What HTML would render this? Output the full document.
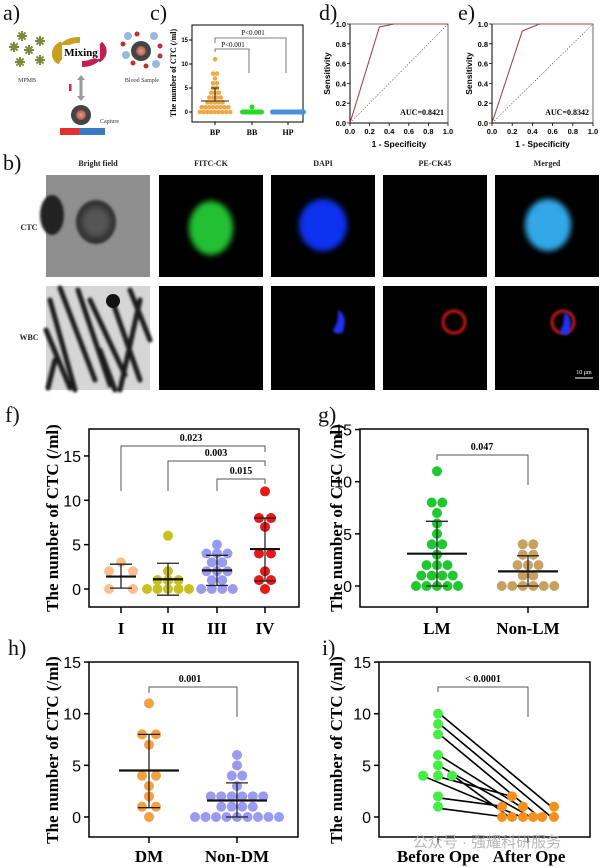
<!DOCTYPE html>
<html><head><meta charset="utf-8"><style>
html,body{margin:0;padding:0;background:#fff;width:600px;height:868px;overflow:hidden}
svg{display:block}
.sr{font-family:"Liberation Serif",serif}
.ss{font-family:"Liberation Sans",sans-serif}
</style></head><body>
<svg id="s" width="600" height="868" viewBox="0 0 600 868" xmlns="http://www.w3.org/2000/svg">
<defs>
<filter id="bl" x="-50%" y="-50%" width="200%" height="200%"><feGaussianBlur stdDeviation="3"/></filter>
<filter id="bl1"><feGaussianBlur stdDeviation="1.2"/></filter>
<radialGradient id="cell" cx="50%" cy="50%" r="50%"><stop offset="0" stop-color="#e8a090"/><stop offset="1" stop-color="#b05848"/></radialGradient>
</defs>
<!-- panel labels -->
<g class="sr" font-size="22" fill="#111">
<text x="3" y="20">a)</text><text x="150" y="20">c)</text><text x="319" y="20">d)</text><text x="458" y="20">e)</text>
<text x="3" y="170">b)</text><text x="5" y="422">f)</text><text x="318" y="422">g)</text>
<text x="8" y="655">h)</text><text x="322" y="655">i)</text>
</g>

<!-- panel a -->
<g id="stars" fill="#7a8a3a"></g>
<text class="sr" x="27" y="82" font-size="6" text-anchor="middle" fill="#333">MPMB</text>
<path d="M63 58 A18 12 0 0 1 80 40" stroke="#c8a020" stroke-width="6" fill="none"/>
<path d="M99 48 A18 12 0 0 1 82 64" stroke="#c02050" stroke-width="6" fill="none"/>
<path d="M60 62 A18 12 0 0 1 62 44" stroke="#c8a020" stroke-width="6" fill="none"/>
<path d="M100 44 A18 12 0 0 1 98 60" stroke="#c02050" stroke-width="6" fill="none"/>
<rect x="62" y="45" width="38" height="14" fill="#fff" opacity="0.9"/>
<text class="sr" x="81" y="56" font-size="11" font-weight="bold" text-anchor="middle">Mixing</text>
<g>
<circle cx="128" cy="36" r="4" fill="#9ab8dd"/><circle cx="154" cy="36" r="4" fill="#9ab8dd"/><circle cx="126" cy="55" r="4" fill="#9ab8dd"/><circle cx="156" cy="64" r="4" fill="#9ab8dd"/>
<circle cx="123" cy="44" r="2.5" fill="#c03030"/><circle cx="137" cy="34" r="2.5" fill="#c03030"/><circle cx="160" cy="46" r="2.5" fill="#c03030"/><circle cx="133" cy="63" r="2.5" fill="#c03030"/><circle cx="146" cy="66" r="2.5" fill="#c03030"/><circle cx="160" cy="56" r="2.5" fill="#c03030"/>
<circle cx="141" cy="51" r="10" fill="#444"/><circle cx="141" cy="51" r="5" fill="url(#cell)"/>
</g>
<text class="sr" x="142" y="82" font-size="6" text-anchor="middle" fill="#333">Blood Sample</text>
<path d="M81 78 L81 98" stroke="#999" stroke-width="3"/><path d="M77 80 L81 75 L85 80 Z M77 96 L81 101 L85 96Z" fill="#999"/>
<rect x="69" y="84" width="2.5" height="7" fill="#c03030"/>
<circle cx="81" cy="115" r="10" fill="#444"/><circle cx="81" cy="115" r="5" fill="url(#cell)"/>
<rect x="60" y="128" width="19" height="7" fill="#e03030"/><rect x="79" y="128" width="26" height="7" fill="#3a7ac0"/>
<text class="sr" x="100" y="123" font-size="6" fill="#333">Capture</text>

<!-- panel c -->
<g class="ss" font-size="6" font-weight="bold" text-anchor="end">
<text x="188" y="42">15</text><text x="188" y="66">10</text><text x="188" y="90">5</text><text x="188" y="114">0</text></g>
<path d="M192 25 V122 H303 V25 Z" fill="none" stroke="#000" stroke-width="1"/>
<path d="M189 40 h3 M189 64 h3 M189 88 h3 M189 112 h3 M215 122 v3 M252 122 v3 M288 122 v3" stroke="#000"/>
<text class="sr" transform="translate(176,73) rotate(-90)" font-size="8" font-weight="bold" text-anchor="middle">The number of CTC (/ml)</text>
<g class="sr" font-size="8" font-weight="bold" text-anchor="middle"><text x="215" y="135">BP</text><text x="252" y="135">BB</text><text x="288" y="135">HP</text></g>
<path d="M215 43 V38 H286 V73 M215 52 V49 H249 V73" fill="none" stroke="#555" stroke-width="0.8"/>
<g class="sr" font-size="7" text-anchor="middle"><text x="253" y="35">P&lt;0.001</text><text x="233" y="47">P&lt;0.001</text></g>
<g id="cdots"></g>
<rect x="240" y="109.5" width="24" height="5" rx="2.5" fill="#22dd22"/><circle cx="252" cy="107" r="2.5" fill="#22dd22"/>
<rect x="270" y="109.5" width="36" height="5" rx="2.5" fill="#4a90e0"/>

<!-- ROC d, e -->
<g id="roc"></g>

<!-- panel b -->
<g class="sr" font-size="8" font-weight="bold" text-anchor="middle" fill="#222">
<text x="98" y="166">Bright field</text><text x="211" y="166">FITC-CK</text><text x="323" y="166">DAPI</text><text x="435" y="166">PE-CK45</text><text x="547" y="166">Merged</text>
<text x="29" y="230">CTC</text><text x="29" y="340">WBC</text></g>
<rect x="46" y="175" width="104" height="102" fill="#8f8f8f"/>
<ellipse cx="52" cy="215" rx="12" ry="20" fill="#222" filter="url(#bl1)"/>
<ellipse cx="96" cy="222" rx="20" ry="22" fill="#333" filter="url(#bl1)"/>
<ellipse cx="96" cy="222" rx="14" ry="15" fill="#555" filter="url(#bl)"/>
<rect x="46" y="286" width="104" height="104" fill="#d6d6d6"/>
<g stroke="#1a1a1a" stroke-width="5" fill="none" stroke-linecap="round" filter="url(#bl1)">
<path d="M50 300 L75 390 M60 288 L95 380 M78 290 L110 385 M90 300 L125 375 M112 300 L140 380 M130 290 L150 340 M46 330 L70 388 M100 350 L115 390 M140 300 L120 390 M55 360 L48 388"/>
</g>
<circle cx="113" cy="301" r="7" fill="#111"/>
<rect x="159" y="175" width="104" height="102" fill="#000"/>
<ellipse cx="211" cy="228" rx="22" ry="27" fill="#22c030" filter="url(#bl)"/>
<rect x="271" y="175" width="104" height="102" fill="#000"/>
<ellipse cx="323" cy="225" rx="24" ry="26" fill="#1030f0" filter="url(#bl)"/>
<rect x="383" y="175" width="104" height="102" fill="#000"/>
<rect x="495" y="175" width="104" height="102" fill="#000"/>
<ellipse cx="548" cy="225" rx="23" ry="26" fill="#30a8e8" filter="url(#bl)"/>
<rect x="159" y="286" width="104" height="104" fill="#000"/>
<rect x="271" y="286" width="104" height="104" fill="#000"/>
<path d="M338 310 q10 5 5 22 q-8 4 -10 -2 q6 -8 5 -20z" fill="#2030f0" filter="url(#bl1)"/>
<rect x="383" y="286" width="104" height="104" fill="#000"/>
<circle cx="454" cy="322" r="11" fill="none" stroke="#d01818" stroke-width="3" filter="url(#bl1)"/>
<rect x="495" y="286" width="104" height="104" fill="#000"/>
<circle cx="563" cy="322" r="11" fill="none" stroke="#d01818" stroke-width="3" filter="url(#bl1)"/>
<path d="M564 312 q10 5 5 22 q-8 3 -9 -3 q5 -8 4 -19z" fill="#2030f0" filter="url(#bl1)"/>
<path d="M575 378 h18" stroke="#fff" stroke-width="1"/>
<text class="sr" x="584" y="374" font-size="6" fill="#fff" text-anchor="middle">10 μm</text>

<!-- bottom plots -->
<g id="bp"></g>
<g class="sr" font-weight="bold" font-size="17" text-anchor="middle">
<text x="121" y="634">I</text><text x="168" y="634">II</text><text x="217" y="634">III</text><text x="265" y="634">IV</text>
<text x="437" y="634">LM</text><text x="528" y="634">Non-LM</text>
<text x="149" y="862">DM</text><text x="237" y="862">Non-DM</text>
<text x="438" y="862">Before Ope</text><text x="529" y="862">After Ope</text>
</g>
<g class="sr" font-weight="bold" font-size="17" text-anchor="middle">
<text transform="translate(58,518) rotate(-90)">The number of CTC (/ml)</text>
<text transform="translate(342,518) rotate(-90)">The number of CTC (/ml)</text>
<text transform="translate(58,750) rotate(-90)">The number of CTC (/ml)</text>
<text transform="translate(342,750) rotate(-90)">The number of CTC (/ml)</text>
</g>
<text x="487" y="847" font-family="'Liberation Sans','Noto Sans CJK SC',sans-serif" font-size="15" fill="#aaa" text-anchor="middle" opacity="0.85">公众号 · 强耀科研服务</text>
</svg>
<script>
var NS="http://www.w3.org/2000/svg";
function el(p,t,a,txt){var e=document.createElementNS(NS,t);for(var k in a)e.setAttribute(k,a[k]);if(txt!=null)e.textContent=txt;p.appendChild(e);return e;}
var s=document.getElementById('s');
// stars
var st=document.getElementById('stars');
[[22,36],[40,41],[14,47],[29,50],[20,62],[40,60]].forEach(function(p){
 for(var i=0;i<4;i++){el(st,'rect',{x:p[0]-5,y:p[1]-1,width:10,height:2,transform:'rotate('+(i*45)+' '+p[0]+' '+p[1]+')'});}
 el(st,'circle',{cx:p[0],cy:p[1],r:2.5});});
// c dots
var cg=document.getElementById('cdots');
var bp={11:1,8:2,7:1,6:2,5:2,4:3,3:4,2:5,1:8,0:9};
function row(g,cx,y,n,sp,r,col){for(var i=0;i<n;i++){el(g,'circle',{cx:cx+(i-(n-1)/2)*sp,cy:y,r:r,fill:col});}}
for(var v in bp){row(cg,215,112-4.8*v,bp[v],3.8,2.3,'#f0a848');}
el(cg,'path',{d:'M215 101 V88 M211 88 h8 M201 101 h28',stroke:'#222','stroke-width':1,fill:'none'});
// ROC
var rg=document.getElementById('roc');
function roc(L,R,T,B,pts,auc){
 var w=R-L,h=B-T;
 el(rg,'path',{d:'M'+L+' '+T+' V'+B+' H'+R,fill:'none',stroke:'#000','stroke-width':1});
 el(rg,'path',{d:'M'+L+' '+T+' H'+R+' V'+B,fill:'none',stroke:'#444','stroke-width':0.8});
 el(rg,'path',{d:'M'+L+' '+B+' L'+R+' '+T,stroke:'#555','stroke-width':0.6,'stroke-dasharray':'1.5,1.5'});
 var d='';pts.forEach(function(p,i){d+=(i?'L':'M')+(L+p[0]*w)+' '+(B-p[1]*h);});
 el(rg,'path',{d:d,fill:'none',stroke:'#a04848','stroke-width':1.1});
 for(var i=0;i<=5;i++){var v=(i*0.2).toFixed(1);
  var y=B-i*0.2*h, x=L+i*0.2*w;
  el(rg,'path',{d:'M'+(L-3)+' '+y+' h3 M'+x+' '+B+' v3',stroke:'#000','stroke-width':0.8});
  el(rg,'text',{x:L-4,y:y+3,'font-size':7.5,'font-weight':'bold','text-anchor':'end','font-family':'Liberation Sans'},v);
  el(rg,'text',{x:x,y:B+11,'font-size':7.5,'font-weight':'bold','text-anchor':'middle','font-family':'Liberation Sans'},v);}
 el(rg,'text',{x:(L+R)/2,y:B+24,'font-size':8.5,'font-weight':'bold','text-anchor':'middle','font-family':'Liberation Sans'},'1 - Specificity');
 el(rg,'text',{transform:'translate('+(L-20)+','+(T+h/2)+') rotate(-90)','font-size':8.5,'font-weight':'bold','text-anchor':'middle','font-family':'Liberation Sans'},'Sensitivity');
 el(rg,'text',{x:R-4,y:B-8,'font-size':8,'font-weight':'bold','text-anchor':'end','font-family':'Liberation Serif'},auc);
}
roc(350,448,24,123,[[0,0],[0.3,0.97],[0.45,1],[1,1]],'AUC=0.8421');
roc(492,593,24,123,[[0,0],[0.3,0.93],[0.47,1],[1,1]],'AUC=0.8342');
// bottom panels
var g=document.getElementById('bp');
function axes(L,R,T,B,y0,pu,ticks,cats){
 el(g,'rect',{x:L,y:T,width:R-L,height:B-T,fill:'none',stroke:'#000','stroke-width':1.5});
 ticks.forEach(function(t){var y=y0-pu*t;el(g,'path',{d:'M'+(L-5)+' '+y+' h5',stroke:'#000','stroke-width':1.5});
  el(g,'text',{x:L-8,y:y+6,'font-size':16,'text-anchor':'end','font-family':'Liberation Sans'},String(t));});
 cats.forEach(function(c){el(g,'path',{d:'M'+c+' '+B+' v6',stroke:'#000','stroke-width':1.5});});
}
function grp(cx,y0,pu,data,col,sp,mean,lo,hi,mw){
 for(var v in data){row(g,cx,y0-pu*v,data[v],sp,5,col);}
 el(g,'path',{d:'M'+cx+' '+(y0-pu*lo)+' V'+(y0-pu*hi)+' M'+(cx-11)+' '+(y0-pu*lo)+' h22 M'+(cx-11)+' '+(y0-pu*hi)+' h22',stroke:'#222','stroke-width':1.3,fill:'none'});
 el(g,'path',{d:'M'+(cx-mw)+' '+(y0-pu*mean)+' h'+(2*mw),stroke:'#111','stroke-width':2.2});
}
function brk(x1,x2,top,l1,l2,txt,tx){
 el(g,'path',{d:'M'+x1+' '+l1+' V'+top+' H'+x2+' V'+l2,fill:'none',stroke:'#555','stroke-width':1});
 el(g,'text',{x:tx,y:top-5,'font-size':10,'font-weight':'bold','text-anchor':'middle','font-family':'Liberation Serif'},txt);
}
// f
var fy0=589,fpu=8.87;
axes(89,299,429,607,fy0,fpu,[0,5,10,15],[121,168,217,265]);
brk(121,265,446,491,452,'0.023',191);brk(168,265,461,491,466,'0.003',216);brk(217,265,479,491,484,'0.015',241);
grp(121,fy0,fpu,{3:1,2:2,0:2},'#f8c090',24,1.4,0.1,2.8,15);
grp(168,fy0,fpu,{6:1,2:1,1:3,0:5},'#c8c020',10.5,1.1,-0.7,2.9,15);
grp(217,fy0,fpu,{5:1,4:3,3:2,2:3,1:2,0:4},'#9a9af0',10.5,2.1,0.4,3.8,15);
grp(265,fy0,fpu,{11:1,8:2,7:1,4:2,2:1,1:2,0:1},'#e81818',12,4.5,0.9,8,15);
// rearrange IV 2 and 1 positions slightly via data approximations
// g
var gy0=586,gpu=10.43;
axes(360,588,429,607,gy0,gpu,[0,5,10,15],[437,528]);
brk(437,528,455,460,485,'0.047',482);
grp(437,gy0,gpu,{11:1,8:2,7:1,6:1,5:1,4:2,3:1,2:3,1:4,0:5},'#20c830',10.5,3.1,0,6.2,30);
grp(528,gy0,gpu,{4:2,3:2,2:3,1:2,0:6},'#c8a060',10.5,1.4,0,2.9,30);
// h
var hy0=817,hpu=10.33;
axes(89,298,662,837,hy0,hpu,[0,5,10,15],[149,237]);
brk(149,237,687,693,717,'0.001',190);
grp(149,hy0,hpu,{11:1,8:2,7:1,4:2,3:1,2:1,1:2,0:1},'#f5a040',14,4.5,0.9,8,30);
grp(237,hy0,hpu,{6:1,5:1,4:2,3:1,2:6,1:4,0:9},'#9a9af0',10.5,1.6,0,3.3,30);
// i
axes(379,590,662,837,hy0,hpu,[0,5,10,15],[438,528]);
brk(438,528,687,692,717,'< 0.0001',483);
var before=[[438,10],[438,9],[438,8],[438,6],[438,5],[423,4],[438,4],[452,4],[438,2],[438,1]];
var after=[[554,1],[554,0],[542,0],[523,1],[533,0],[523,0],[512,2],[512,0],[502,1],[502,0]];
for(var i=0;i<before.length;i++){el(g,'path',{d:'M'+(before[i][0]+4)+' '+(hy0-hpu*before[i][1]+2)+' L'+(after[i][0]-4)+' '+(hy0-hpu*after[i][1]-1),stroke:'#000','stroke-width':1.6});}
before.forEach(function(p){el(g,'circle',{cx:p[0],cy:hy0-hpu*p[1],r:5,fill:'#44ee44'});});
after.forEach(function(p){el(g,'circle',{cx:p[0],cy:hy0-hpu*p[1],r:5,fill:'#f59020'});});
</script>
</body></html>
